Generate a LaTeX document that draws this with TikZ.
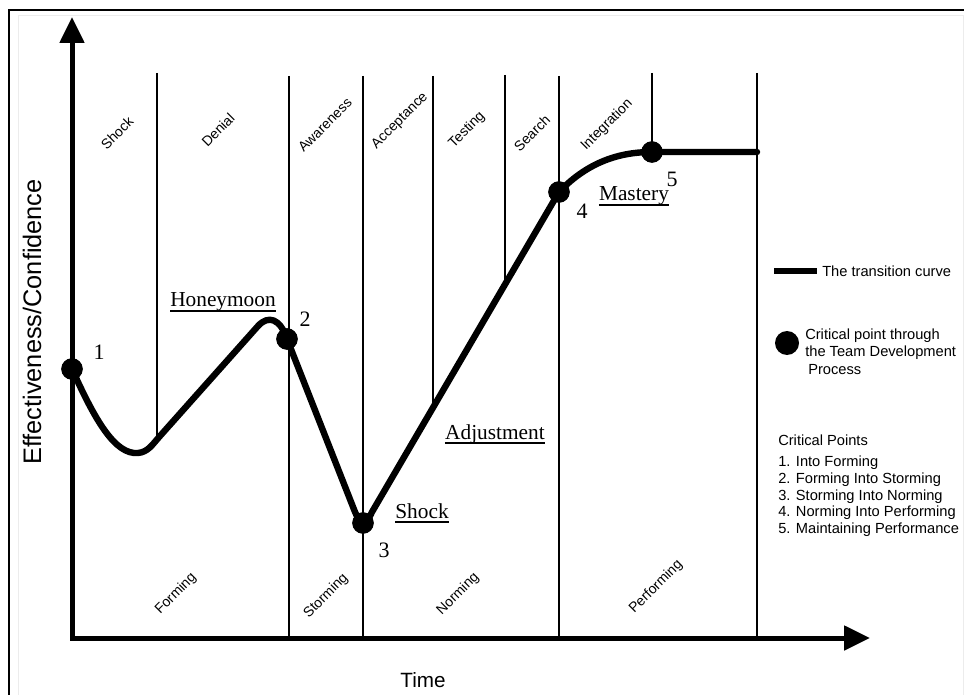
\documentclass[tikz,border=0pt]{standalone}
\usepackage{fontspec}
\setmainfont{Liberation Sans}
\newfontfamily\seriffont{Liberation Serif}
\usetikzlibrary{arrows.meta}
\begin{document}
\begin{tikzpicture}[x=0.75pt,y=-0.75pt,
  thinline/.style={line width=0.8pt},
  thickline/.style={line width=1.5pt},
  axisline/.style={line width=3.75pt, line join=miter},
  curveline/.style={line width=4.8pt, line join=round, line cap=round},
  dot/.style={circle, fill=black, inner sep=0pt, minimum size=16pt},
  stagelbl/.style={font=\fontsize{10.5}{12}\selectfont, rotate=45},
  phaselbl/.style={font=\fontsize{10.5}{12}\selectfont, rotate=45},
  seriflbl/.style={font=\seriffont\fontsize{16}{18}\selectfont, anchor=base, inner sep=0pt},
  numlbl/.style={font=\seriffont\fontsize{16.5}{18}\selectfont, anchor=base},
  leglbl/.style={font=\fontsize{11}{13}\selectfont, anchor=west, inner sep=0pt},
  uline/.style={line width=0.9pt},
]
\useasboundingbox (0,0) rectangle (964,695);
% frame
\draw[gray!15, line width=0.75pt] (18,695) -- (18,16) -- (963,16) -- (963,695);
\draw[line width=2.2pt] (9,695) -- (9,10) -- (964,10);

% vertical separators
\draw[thinline] (157,73) -- (157,438);
\draw[thickline] (289,76) -- (289,638);
\draw[thickline] (363,76) -- (363,638);
\draw[thinline] (433,76) -- (433,406);
\draw[thinline] (505,75) -- (505,284);
\draw[thickline] (559,76) -- (559,638);
\draw[thinline] (652,73) -- (652,152);
\draw[thickline] (757,73) -- (757,638);

% axes
\draw[axisline, {Triangle[length=19.5pt,width=18pt]}-{Triangle[length=19.5pt,width=18pt]}]
  (72,17) -- (72,638) -- (870,638);

% critical points
\node[dot] (p1) at (72,369) {};
\node[dot] (p2) at (287,339) {};
\node[dot] (p3) at (363,523) {};
\node[dot] (p4) at (559,192) {};
\node[dot] (p5) at (652,152) {};
\coordinate (pend) at (757,152);

% transition curve
\draw[curveline] (p1.center) .. controls (95,420) and (115,455) .. (138,453)
  .. controls (148,452) and (152,445) .. (160,436) -- (258,326)
  .. controls (268,315) and (280,318) .. (p2.center)
  -- (355,512) .. controls (359,522) and (366,526) .. (372,512)
  -- (p4.center) .. controls (585,165) and (615,152) .. (p5.center) -- (pend);
\foreach \p in {p1,p2,p3,p4,p5} \fill (\p) circle[radius=8pt];

% numbers
\node[numlbl] (n1) at (99,359) {1};
\node[numlbl] (n2) at (305,327) {2};
\node[numlbl] (n3) at (384,557) {3};
\node[numlbl] (n4) at (582,219) {4};
\node[numlbl] (n5) at (672,187) {5};

% serif labels
\node[seriflbl] (honey) at (223,307) {Honeymoon};
\node[seriflbl] (shk) at (422,518) {Shock};
\node[seriflbl] (adj) at (495,439) {Adjustment};
\node[seriflbl] (mast) at (634,201) {Mastery};
\foreach \n in {honey,shk,adj,mast}
  \draw[uline] ([yshift=-3pt]\n.base west) -- ([yshift=-3pt]\n.base east);

% stage labels (top)
\node[stagelbl] (s1) at (117,133) {Shock};
\node[stagelbl] (s2) at (218,130) {Denial};
\node[stagelbl] (s3) at (325,125) {Awareness};
\node[stagelbl] (s4) at (400,121) {Acceptance};
\node[stagelbl] (s5) at (467,130) {Testing};
\node[stagelbl] (s6) at (532,133) {Search};
\node[stagelbl] (s7) at (607,125) {Integration};

% phase labels (bottom)
\node[phaselbl] (f1) at (176,594) {Forming};
\node[phaselbl] (f2) at (326,596) {Storming};
\node[phaselbl] (f3) at (458,594) {Norming};
\node[phaselbl] (f4) at (656,587) {Performing};

% axis titles
\node[font=\fontsize{19}{20}\selectfont, rotate=90] (ylab) at (32,322) {Effectiveness/Confidence};
\node[font=\fontsize{15.5}{18}\selectfont] (xlab) at (423,680) {Time};

% legend
\draw[line width=4pt] (774,271) -- (817,271);
\node[leglbl] (l1) at (822,271) {The transition curve};
\fill (787,343) circle[radius=9pt];
\node[leglbl] (l2) at (805,336) {Critical point through};
\node[leglbl] (l3) at (805,353) {the Team Development};
\node[leglbl] (l4) at (808,370) {Process};
\node[leglbl] (l5) at (778,440) {Critical Points};
\node[leglbl] (l6) at (778,463) {1. Into Forming};
\node[leglbl] (l7) at (778,480) {2. Forming Into Storming};
\node[leglbl] (l8) at (778,497) {3. Storming Into Norming};
\node[leglbl] (l9) at (778,513) {4. Norming Into Performing};
\node[leglbl] (l10) at (778,530) {5. Maintaining Performance};
\end{tikzpicture}
\end{document}
